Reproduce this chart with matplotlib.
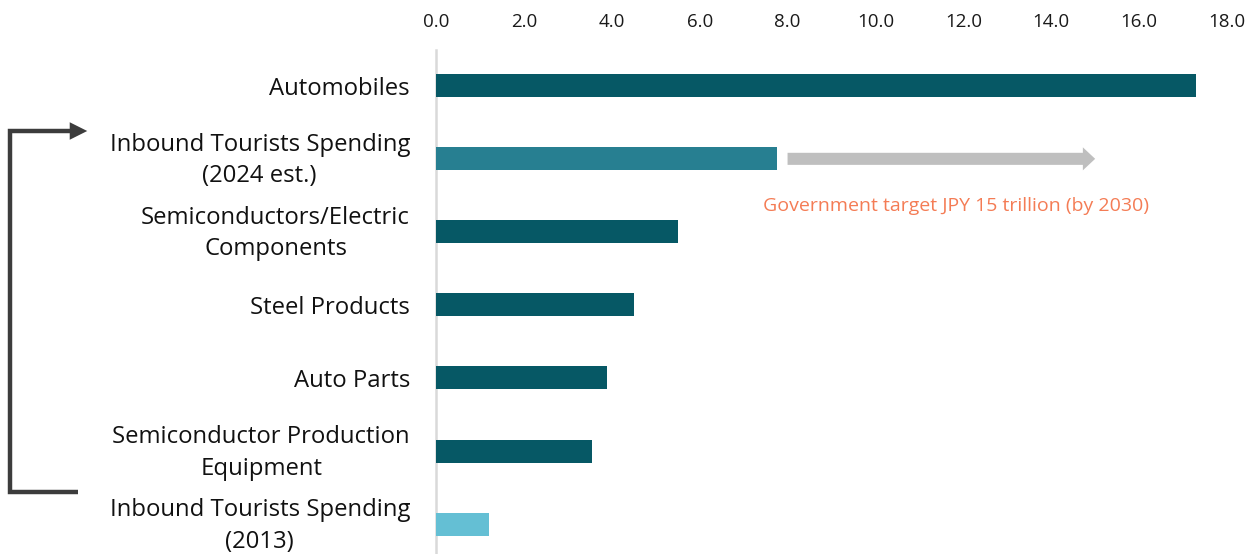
import matplotlib
matplotlib.use("Agg")
import matplotlib.pyplot as plt
from matplotlib.lines import Line2D
from matplotlib.patches import FancyArrow, FancyArrowPatch

# --- Dados (JPY trillion) ---
categorias = [
    "Automobiles",
    "Inbound Tourists Spending\n(2024 est.)",
    "Semiconductors/Electric\nComponents",
    "Steel Products",
    "Auto Parts",
    "Semiconductor Production\nEquipment",
    "Inbound Tourists Spending\n(2013)",
]
valores = [17.3, 7.75, 5.5, 4.5, 3.9, 3.55, 1.2]
cores = ["#065865", "#277f91", "#065865", "#065865", "#065865", "#065865", "#64bfd4"]
meta_2030 = 15.0
inicio_seta = 8.0
texto_meta = "Government target JPY 15 trillion (by 2030)"
ticks_x = [0, 2, 4, 6, 8, 10, 12, 14, 16, 18]

plt.rcParams['font.family'] = ['Open Sans', 'DejaVu Sans']

fig = plt.figure(figsize=(12.58, 5.54), dpi=100)
ax = fig.add_axes([436 / 1258, 0.0, 791 / 1258, 1 - 50 / 554])

pos = list(range(len(categorias)))
ax.barh(pos, valores, height=0.315, color=cores, zorder=3)

ax.set_xlim(0, 18)
ax.set_ylim(6.41, -0.49)
ax.set_xticks(ticks_x)
ax.set_xticklabels([f"{t:.1f}" for t in ticks_x], fontsize=13.5, color="#1a1a1a")
ax.xaxis.tick_top()
ax.tick_params(axis="x", length=0, pad=14)
ax.set_yticks(pos)
ax.set_yticklabels([])
ax.tick_params(axis="y", length=0)

# rótulos das categorias (multilinha centralizada)
for p, cat in zip(pos, categorias):
    dy = -2 if "\n" in cat else -3
    ax.annotate(cat, xy=(0, p), xycoords=("axes fraction", "data"),
                xytext=(-26, dy), textcoords="offset pixels",
                ha="right", va="center", multialignment="center",
                fontsize=17.2, color="#111111", linespacing=1.4)

for s in ["top", "right", "bottom"]:
    ax.spines[s].set_visible(False)
ax.spines["left"].set_color("#d9d9d9")
ax.spines["left"].set_linewidth(1.8)

# seta da meta do governo
ax.add_patch(FancyArrow(inicio_seta, 1, meta_2030 - inicio_seta, 0,
                        width=0.165, head_width=0.315, head_length=0.28,
                        length_includes_head=True, color="#bfbfbf", lw=0, zorder=3))
ax.text((inicio_seta + meta_2030) / 2 + 0.33, 1.65, texto_meta,
        ha="center", va="center", fontsize=14, color="#f47c55")

# colchete à esquerda
W, H = 1258, 554
def fc(x, y):
    return (x / W, 1 - y / H)

cor_col = "#3c3c3c"
xs = [78, 10, 10, 74]
ys = [492, 492, 131, 131]
fig.add_artist(Line2D([x / W for x in xs], [1 - y / H for y in ys],
                      color=cor_col, lw=3.2, solid_joinstyle="miter", solid_capstyle="butt"))
fig.add_artist(FancyArrowPatch(fc(70, 131), fc(90, 131), transform=fig.transFigure,
                               arrowstyle="-|>,head_length=0.9,head_width=0.45",
                               mutation_scale=14, color=cor_col, lw=0))

fig.savefig("out.png", dpi=100)
